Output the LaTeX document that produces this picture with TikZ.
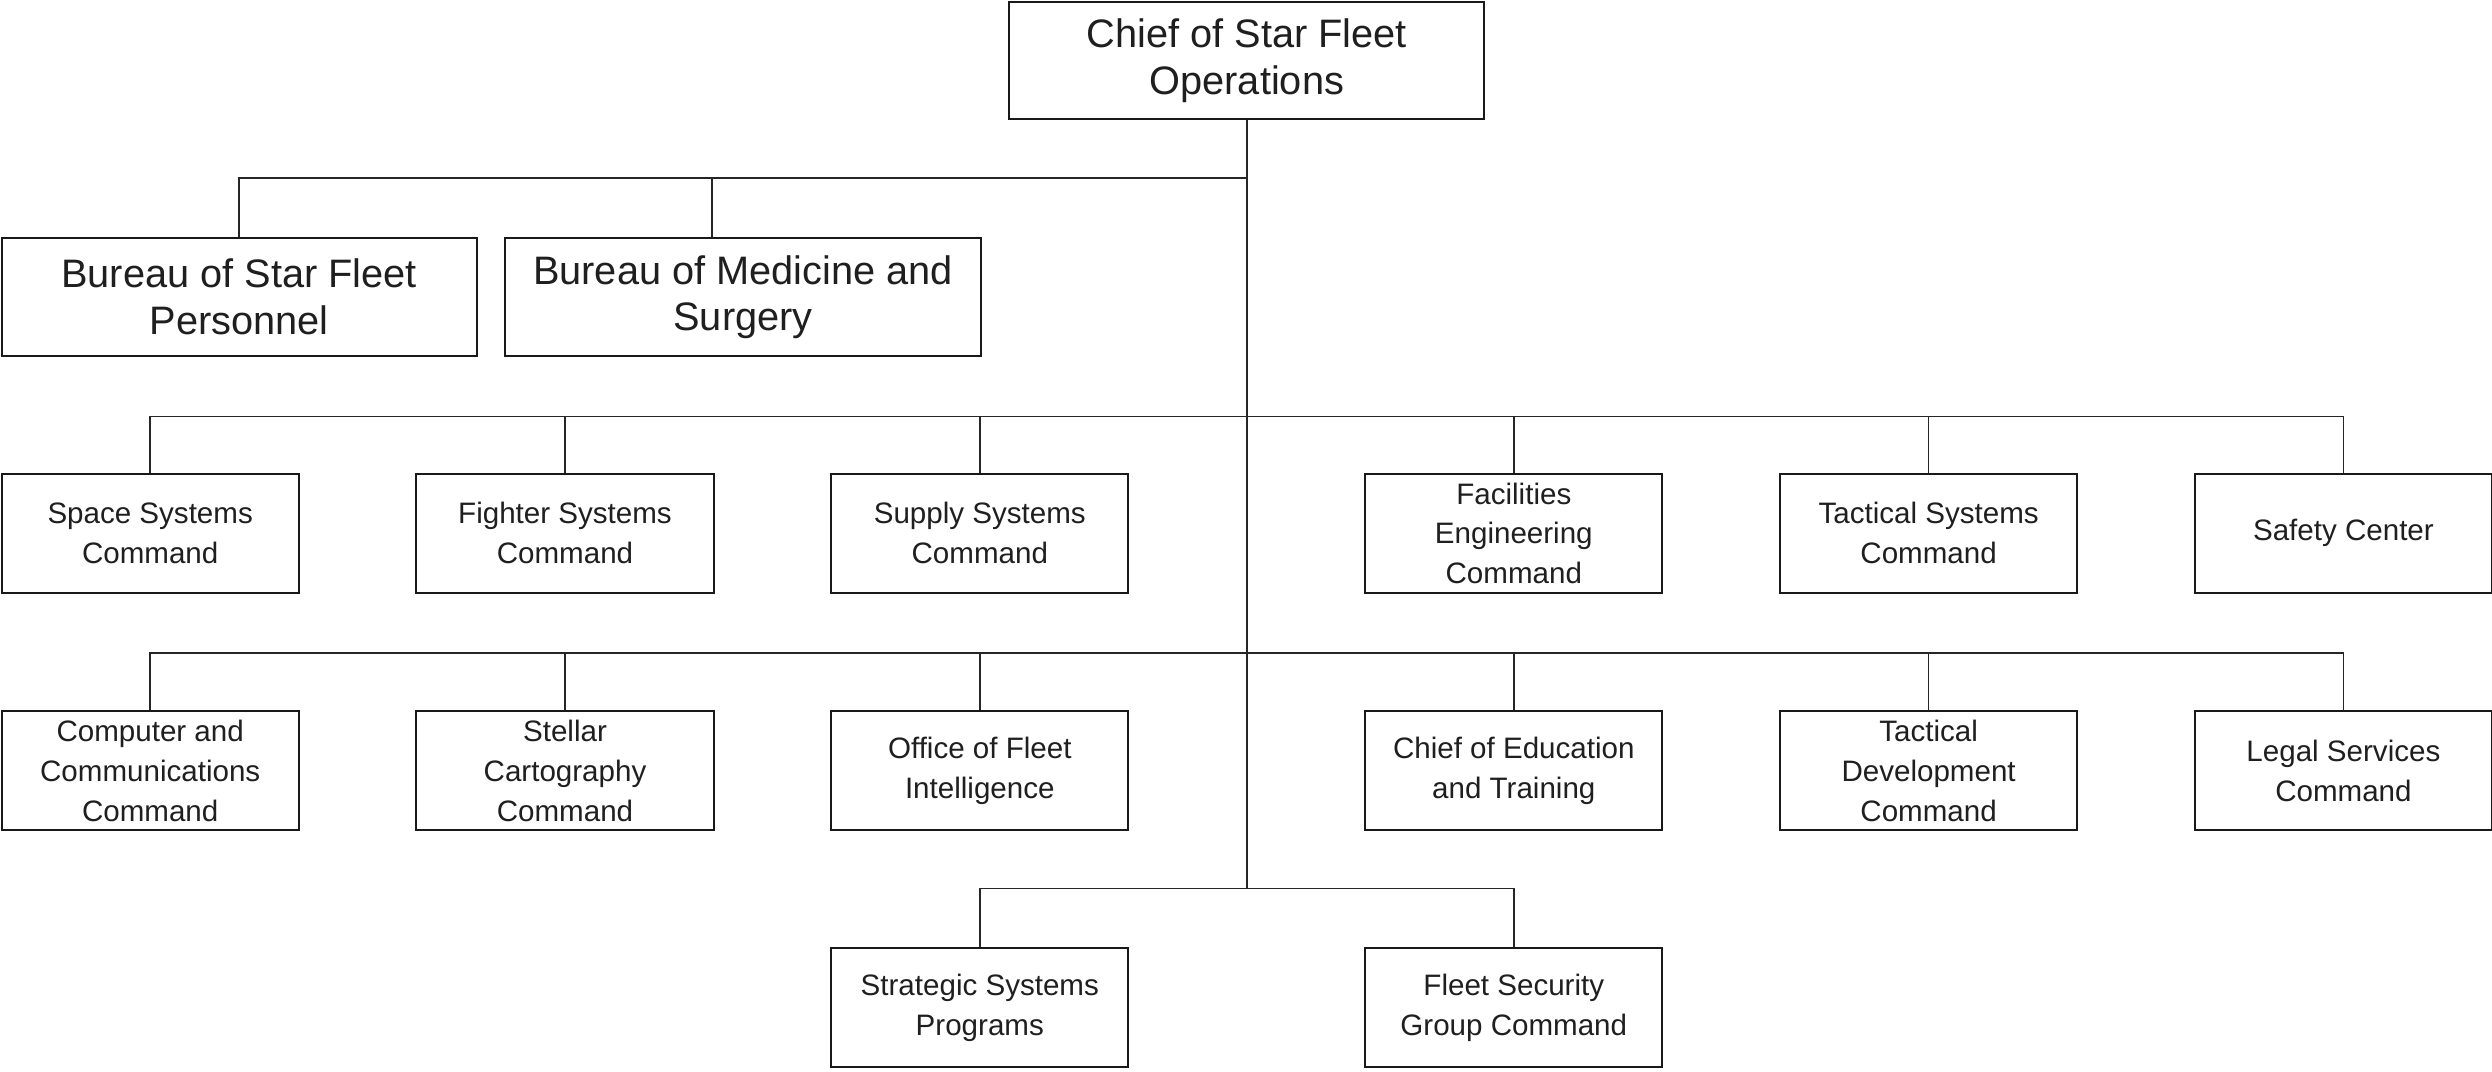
\documentclass[tikz,border=0pt]{standalone}
\usepackage{fontspec}
\setmainfont{Liberation Sans}
\begin{document}
\begin{tikzpicture}[x=0.5pt,y=-0.5pt,
  box/.style={draw=black!90, line width=0.6pt, fill=white, align=center, inner sep=0pt,
    text=black!88, font=\fontsize{9.3}{12.5}\selectfont, minimum width=93.5pt, minimum height=37.5pt},
  bigbox/.style={box, font=\fontsize{12.5}{14.75}\selectfont, minimum width=149.5pt, minimum height=37pt},
  conn/.style={draw=black!85, line width=0.5pt}]
\useasboundingbox (0,0) rectangle (1568,674);
% top
\node[bigbox] (chief) at (784.5,38) {Chief of Star Fleet\\Operations};
\node[bigbox] (pers) at (150.5,187) {Bureau of Star Fleet\\Personnel};
\node[bigbox] (med) at (467.5,187) {Bureau of Medicine and\\Surgery};
% row 1
\node[box] (space) at (94.5,335.5) {Space Systems\\Command};
\node[box] (fighter) at (355.5,335.5) {Fighter Systems\\Command};
\node[box] (supply) at (616.5,335.5) {Supply Systems\\Command};
\node[box] (facil) at (952.5,335.5) {Facilities\\Engineering\\Command};
\node[box] (tacsys) at (1213.5,335.5) {Tactical Systems\\Command};
\node[box] (safety) at (1474.5,335.5) {Safety Center};
% row 2
\node[box] (comp) at (94.5,485) {Computer and\\Communications\\Command};
\node[box] (stellar) at (355.5,485) {Stellar\\Cartography\\Command};
\node[box] (intel) at (616.5,485) {Office of Fleet\\Intelligence};
\node[box] (edu) at (952.5,485) {Chief of Education\\and Training};
\node[box] (tacdev) at (1213.5,485) {Tactical\\Development\\Command};
\node[box] (legal) at (1474.5,485) {Legal Services\\Command};
% row 3
\node[box] (strat) at (616.5,634) {Strategic Systems\\Programs};
\node[box] (fsec) at (952.5,634) {Fleet Security\\Group Command};
% junctions
\coordinate (jb) at (784.5,112);
\coordinate (mb) at (448,112);
\coordinate (j1) at (784.5,262);
\coordinate (j2) at (784.5,411);
\coordinate (j3) at (784.5,559);
% connectors
\draw[conn] (chief.south) -- (j3);
\draw[conn] (pers.north) |- (jb);
\draw[conn] (mb) -- (mb |- med.north);
\draw[conn] (space.north) |- (j1) -| (safety.north);
\foreach \n in {fighter,supply,facil,tacsys} \draw[conn] (\n.north) -- (\n.north |- j1);
\draw[conn] (comp.north) |- (j2) -| (legal.north);
\foreach \n in {stellar,intel,edu,tacdev} \draw[conn] (\n.north) -- (\n.north |- j2);
\draw[conn] (strat.north) |- (j3) -| (fsec.north);
\end{tikzpicture}
\end{document}
